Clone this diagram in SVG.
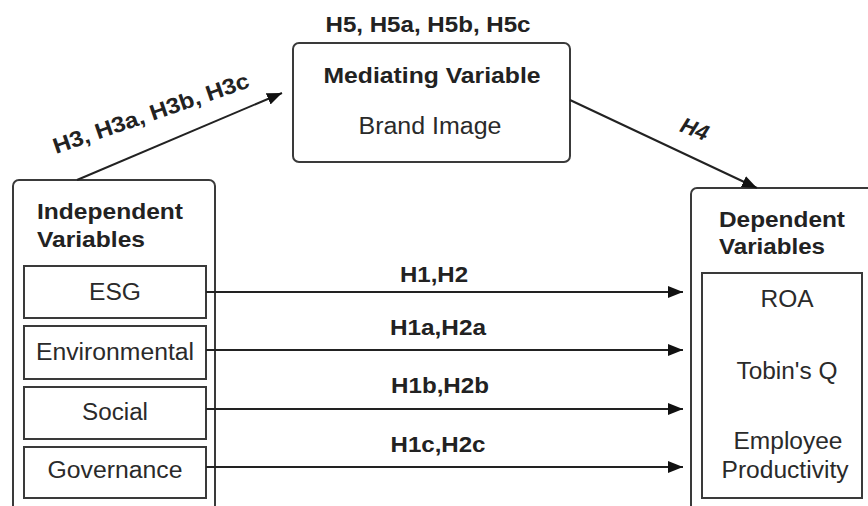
<svg xmlns="http://www.w3.org/2000/svg" width="868" height="506" viewBox="0 0 868 506">
  <style>
    text { font-family: "Liberation Sans", Arial, sans-serif; fill: #222; }
    .b { font-weight: bold; }
    .h { font-size: 22px; }
    .r { font-size: 23px; fill: #2a2a2a; }
    .lab { font-size: 22px; font-weight: bold; }
    .frame { fill: #fff; stroke: #3a3a3a; stroke-width: 2; }
    .cell { fill: #fff; stroke: #3a3a3a; stroke-width: 2; }
    .conn { stroke: #222; stroke-width: 2; fill: none; marker-end: url(#arrow); }
    .mid { text-anchor: middle; }
  </style>
  <defs>
    <marker id="arrow" markerUnits="userSpaceOnUse" markerWidth="16" markerHeight="13" refX="15" refY="6" orient="auto">
      <path d="M0,0 L15,6 L0,12 Z" fill="#111"/>
    </marker>
  </defs>
  <rect width="868" height="506" fill="#fff"/>

  <!-- Independent variables -->
  <g id="independent">
    <rect class="frame" x="13" y="180" width="202" height="340" rx="6"/>
    <text class="b h" x="37" y="219" textLength="146" lengthAdjust="spacingAndGlyphs">Independent</text>
    <text class="b h" x="37" y="247" textLength="108" lengthAdjust="spacingAndGlyphs">Variables</text>
  </g>
  <g id="esg">
    <rect class="cell" x="24" y="266" width="182" height="52"/>
    <text class="r mid" x="115" y="300" textLength="52" lengthAdjust="spacingAndGlyphs">ESG</text>
  </g>
  <g id="environmental">
    <rect class="cell" x="24" y="326" width="182" height="53"/>
    <text class="r mid" x="115" y="360" textLength="158" lengthAdjust="spacingAndGlyphs">Environmental</text>
  </g>
  <g id="social">
    <rect class="cell" x="24" y="387" width="182" height="52"/>
    <text class="r mid" x="115" y="420" textLength="66" lengthAdjust="spacingAndGlyphs">Social</text>
  </g>
  <g id="governance">
    <rect class="cell" x="24" y="447" width="182" height="51"/>
    <text class="r mid" x="115" y="478" textLength="135" lengthAdjust="spacingAndGlyphs">Governance</text>
  </g>

  <!-- Mediating variable -->
  <g id="mediating">
    <text class="lab mid" x="428" y="32" textLength="205" lengthAdjust="spacingAndGlyphs">H5, H5a, H5b, H5c</text>
    <rect class="frame" x="293" y="43" width="277" height="119" rx="6"/>
    <text class="b h mid" x="432" y="83" textLength="217" lengthAdjust="spacingAndGlyphs">Mediating Variable</text>
    <text class="r mid" x="430" y="134" textLength="143" lengthAdjust="spacingAndGlyphs">Brand Image</text>
  </g>

  <!-- Dependent variables -->
  <g id="dependent">
    <rect class="frame" x="691" y="188" width="200" height="340" rx="6"/>
    <text class="b h" x="719" y="227" textLength="126" lengthAdjust="spacingAndGlyphs">Dependent</text>
    <text class="b h" x="719" y="254" textLength="106" lengthAdjust="spacingAndGlyphs">Variables</text>
    <rect class="cell" x="702" y="273" width="160" height="225"/>
    <text class="r mid" x="787" y="307" textLength="53" lengthAdjust="spacingAndGlyphs">ROA</text>
    <text class="r mid" x="787" y="379" textLength="101" lengthAdjust="spacingAndGlyphs">Tobin's Q</text>
    <text class="r mid" x="788" y="449" textLength="109" lengthAdjust="spacingAndGlyphs">Employee</text>
    <text class="r mid" x="785" y="478" textLength="127" lengthAdjust="spacingAndGlyphs">Productivity</text>
  </g>

  <!-- Connectors -->
  <g id="connectors">
    <line class="conn" x1="77" y1="180" x2="282" y2="93"/>
    <line class="conn" x1="570" y1="100" x2="757" y2="188"/>
    <line class="conn" x1="206" y1="292" x2="683" y2="292"/>
    <line class="conn" x1="206" y1="350" x2="683" y2="350"/>
    <line class="conn" x1="206" y1="409" x2="683" y2="409"/>
    <line class="conn" x1="206" y1="467" x2="683" y2="467"/>
    <text class="lab" transform="translate(56,154) rotate(-19)" textLength="206" lengthAdjust="spacingAndGlyphs">H3, H3a, H3b, H3c</text>
    <text class="lab mid" font-style="italic" font-size="23" transform="translate(692,136) rotate(21)">H4</text>
    <text class="lab mid" x="434" y="282" textLength="68" lengthAdjust="spacingAndGlyphs">H1,H2</text>
    <text class="lab mid" x="438" y="335" textLength="96" lengthAdjust="spacingAndGlyphs">H1a,H2a</text>
    <text class="lab mid" x="440" y="393" textLength="98" lengthAdjust="spacingAndGlyphs">H1b,H2b</text>
    <text class="lab mid" x="438" y="452" textLength="95" lengthAdjust="spacingAndGlyphs">H1c,H2c</text>
  </g>
</svg>
